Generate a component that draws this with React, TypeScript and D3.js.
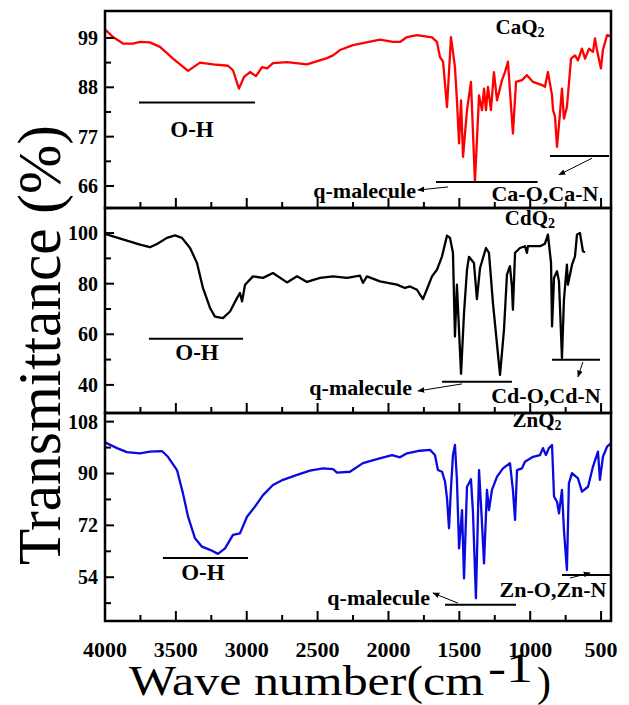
import React from "react";
import * as d3 from "d3";

// FTIR spectra, wave number (cm-1) vs transmittance (%)
const caWave = [4000, 3944, 3873, 3802, 3753, 3683, 3612, 3520, 3414, 3330, 3238, 3132, 3097, 3055, 3019, 2977, 2935, 2892, 2857, 2815, 2716, 2575, 2434, 2391, 2342, 2250, 2060, 1968, 1919, 1869, 1799, 1693, 1658, 1637, 1615, 1587, 1559, 1531, 1517, 1502, 1488, 1474, 1446, 1418, 1390, 1361, 1340, 1326, 1312, 1298, 1277, 1256, 1234, 1199, 1178, 1157, 1122, 1100, 1058, 1023, 980, 917, 896, 875, 846, 839, 825, 811, 790, 776, 762, 741, 712, 684, 663, 635, 613, 585, 557, 543, 529, 501, 487, 458, 430];
const caT = [100.9, 99.2, 97.75, 97.75, 98.1, 98, 97, 94.4, 91.65, 93.5, 93.1, 92.8, 91.8, 87.7, 90.3, 91.4, 90.5, 92.5, 92.2, 93.4, 93.6, 93.1, 94.5, 95.1, 96.3, 97.4, 98.6, 98.1, 98.1, 99.2, 99.6, 99.1, 98.1, 94.8, 93.7, 83.6, 99.2, 92.5, 85.1, 75.5, 85.1, 72.5, 82.9, 89.2, 66.9, 86.2, 82.9, 87.7, 82.9, 88.1, 82.9, 91.4, 85.1, 89.6, 91.4, 93.7, 77.7, 89.2, 89.6, 90.7, 89.2, 88.5, 88.1, 91.4, 86.2, 82.9, 81.4, 74.7, 82.2, 87.7, 81, 83.6, 94.4, 95.1, 94, 96.6, 94.4, 96.6, 95.9, 98.9, 96.3, 92.2, 96.3, 99.6, 99.4];

const cdWave = [4000, 3944, 3845, 3753, 3683, 3633, 3563, 3506, 3457, 3400, 3351, 3309, 3259, 3224, 3168, 3118, 3069, 3048, 3033, 3012, 2956, 2885, 2815, 2716, 2645, 2575, 2483, 2391, 2293, 2201, 2180, 2152, 2060, 1940, 1884, 1848, 1799, 1757, 1721, 1693, 1658, 1622, 1587, 1566, 1545, 1531, 1517, 1510, 1488, 1467, 1446, 1432, 1397, 1376, 1354, 1312, 1291, 1263, 1213, 1185, 1164, 1143, 1129, 1122, 1107, 1072, 1037, 1023, 1016, 931, 896, 875, 853, 846, 832, 811, 797, 776, 762, 741, 734, 705, 684, 670, 649, 628, 613];
const cdT = [99.7, 98.7, 97, 95.4, 94.4, 95.7, 98.1, 99.1, 98.1, 94.1, 88.2, 78.3, 70.4, 67, 66.4, 69, 74.3, 76.3, 73, 79.6, 82.9, 82.3, 84.2, 80.5, 82.9, 80.7, 82.3, 82.9, 82.3, 83.2, 80.3, 82.9, 80.9, 79.6, 78.3, 78.9, 77.6, 73.9, 78.9, 82.9, 85.5, 90.8, 99, 98.1, 92.2, 59.1, 79.6, 71, 44.4, 68.4, 85.5, 90.6, 88.2, 73.9, 86.2, 94.1, 92.2, 72.4, 44, 61.8, 83.6, 86.9, 78.9, 69.7, 92.2, 94.1, 94.8, 92.2, 94.8, 94.8, 95.8, 99.4, 88.2, 63.1, 82.3, 84.9, 80.9, 50.6, 73.7, 87.5, 79.6, 87.5, 90.8, 99.4, 100, 92.8, 92.4];

const znWave = [4000, 3915, 3845, 3753, 3683, 3598, 3556, 3492, 3450, 3414, 3365, 3316, 3259, 3203, 3153, 3097, 3048, 2998, 2942, 2885, 2815, 2744, 2645, 2554, 2462, 2391, 2363, 2272, 2180, 2081, 1975, 1919, 1869, 1778, 1707, 1672, 1651, 1622, 1601, 1587, 1573, 1559, 1545, 1531, 1517, 1502, 1481, 1467, 1446, 1432, 1418, 1404, 1383, 1361, 1340, 1326, 1305, 1291, 1270, 1234, 1192, 1143, 1122, 1107, 1093, 1058, 1037, 980, 931, 910, 889, 868, 846, 832, 811, 797, 776, 762, 741, 727, 705, 663, 635, 592, 557, 522, 508, 487, 458, 430];
const znT = [100.8, 98.8, 97.4, 97, 97.6, 97.8, 95.8, 91.2, 83.1, 75, 67.5, 64.6, 63.5, 62.1, 64, 68.7, 69.2, 75, 78.5, 82.5, 86, 87.8, 89.5, 91, 91.8, 91.5, 90.3, 90.6, 93.6, 95, 96.4, 95.6, 97, 97.9, 98.2, 96.4, 91.2, 90.6, 87.2, 81.4, 71, 84.9, 96.4, 99.9, 87.8, 64, 77.3, 53.6, 85.4, 86.6, 88, 76.8, 46.7, 91.2, 72.7, 58.8, 84.3, 77.3, 84.3, 88.9, 91.8, 93.6, 84.3, 73.9, 91.2, 91.8, 94.1, 95.8, 96.4, 98.8, 96.4, 98.8, 99.9, 82, 80.2, 76.2, 84.3, 70.4, 56.5, 86.6, 90.1, 88.3, 83.7, 85.4, 92.4, 97.6, 87.8, 95.8, 99.3, 100.5];

const xMajor = [4000, 3500, 3000, 2500, 2000, 1500, 1000, 500];
const xMinor = [3750, 3250, 2750, 2250, 1750, 1250, 750];

const caTicks = [66, 77, 88, 99];
const caMinor = [71.5, 82.5, 93.5];
const cdTicks = [40, 60, 80, 100];
const cdMinor = [50, 70, 90];
const znTicks = [54, 72, 90, 108];
const znMinor = [45, 63, 81, 99];

// annotation anchors in data units (wave number, transmittance)
const caNotes = {
  title: ["Ca", 1072, 101.4],
  oh: [3760, 2942, 84.6, 3386, 78.7],
  q: [1665, 948, 66.9, 1806, 65.1, 1580, 65.8, 1792, 65.1],
  m: ["Ca-O,Ca-N", 860, 444, 72.7, 896, 64.4, 564, 72.2, 797, 68.5],
};
const cdNotes = {
  title: ["Cd", 1002, 105.8],
  oh: [3690, 3026, 58.2, 3351, 52.7],
  q: [1622, 1129, 41.2, 1834, 38.8, 1481, 40.4, 1792, 37.6],
  m: ["Cd-O,Cd-N", 846, 508, 49.9, 889, 36.0, 628, 49.1, 663, 43.2],
};
const znNotes = {
  title: ["Zn", 952, 108.4],
  oh: [3591, 2991, 60.7, 3309, 55.5],
  q: [1601, 1100, 44.4, 1707, 47.1, 1510, 45.0, 1686, 48.5],
  m: ["Zn-O,Zn-N", 776, 430, 54.8, 839, 49.6, 719, 53.7, 578, 55.5],
};

const W = 629, H = 705;
const left = 105, right = 611;
const serif = "Liberation Serif, Tinos, Times New Roman, serif";

const x = d3.scaleLinear().domain([4000, 430]).range([left, right]);

function Panel({ top, bottom, domain, ticks, minor, wave, t, color, notes }) {
  const y = d3.scaleLinear().domain(domain).range([bottom, top]);
  const line = d3.line<number>().x((d, i) => x(wave[i])).y((d) => y(d));
  const [tt, tx, ty] = notes.title;
  const [o1, o2, oy, otx, oty] = notes.oh;
  const [q1, q2, qy, qtx, qty, qa1, qb1, qa2, qb2] = notes.q;
  const [mLabel, m1, m2, my, mtx, mty, ma1, mb1, ma2, mb2] = notes.m;
  const bold = { fontFamily: serif, fontWeight: 700 };
  return (
    <g>
      <defs>
        <clipPath id={"clip" + top}>
          <rect x={left} y={top} width={right - left} height={bottom - top} />
        </clipPath>
      </defs>
      <path d={line(t) || ""} fill="none" stroke={color} strokeWidth={2.3} strokeLinejoin="round" clipPath={`url(#clip${top})`} />
      {xMajor.map((v) => (
        <line key={"M" + v} x1={x(v)} x2={x(v)} y1={bottom} y2={bottom - 10} stroke="#000" strokeWidth={2} />
      ))}
      {xMinor.map((v) => (
        <line key={"m" + v} x1={x(v)} x2={x(v)} y1={bottom} y2={bottom - 6} stroke="#000" strokeWidth={2} />
      ))}
      {ticks.map((v) => (
        <g key={"y" + v}>
          <line x1={left} x2={left + 9} y1={y(v)} y2={y(v)} stroke="#000" strokeWidth={2} />
          <text x={left - 7} y={y(v)} textAnchor="end" dominantBaseline="central" style={{ ...bold, fontSize: 20 }}>{v}</text>
        </g>
      ))}
      {minor.map((v) => (
        <line key={"ym" + v} x1={left} x2={left + 6} y1={y(v)} y2={y(v)} stroke="#000" strokeWidth={2} />
      ))}
      <rect x={left} y={top} width={right - left} height={bottom - top} fill="none" stroke="#000" strokeWidth={2.5} />
      <text x={x(tx)} y={y(ty)} textAnchor="middle" dominantBaseline="central" style={{ ...bold, fontSize: 21 }}>
        {tt}Q<tspan style={{ fontSize: 14 }} dy={5}>2</tspan>
      </text>
      <line x1={x(o1)} x2={x(o2)} y1={y(oy)} y2={y(oy)} stroke="#000" strokeWidth={2} />
      <text x={x(otx)} y={y(oty)} textAnchor="middle" dominantBaseline="central" style={{ ...bold, fontSize: 23 }}>O-H</text>
      <line x1={x(q1)} x2={x(q2)} y1={y(qy)} y2={y(qy)} stroke="#000" strokeWidth={2} />
      <text x={x(qtx)} y={y(qty)} textAnchor="end" dominantBaseline="central" style={{ ...bold, fontSize: 22 }}>q-malecule</text>
      <line x1={x(qa1)} y1={y(qb1)} x2={x(qa2)} y2={y(qb2)} stroke="#000" strokeWidth={1} markerEnd="url(#arrow)" />
      <line x1={x(m1)} x2={x(m2)} y1={y(my)} y2={y(my)} stroke="#000" strokeWidth={2} />
      <text x={x(mtx)} y={y(mty)} textAnchor="middle" dominantBaseline="central" style={{ ...bold, fontSize: 22 }}>{mLabel}</text>
      <line x1={x(ma1)} y1={y(mb1)} x2={x(ma2)} y2={y(mb2)} stroke="#000" strokeWidth={1} markerEnd="url(#arrow)" />
    </g>
  );
}

export default function App() {
  return (
    <svg width={W} height={H} style={{ position: "absolute", left: 0, top: 0, background: "#fff" }}>
      <defs>
        <marker id="arrow" viewBox="0 0 10 10" refX={9} refY={5} markerWidth={7} markerHeight={7} orient="auto" markerUnits="userSpaceOnUse">
          <path d="M0,1 L10,5 L0,9 Z" fill="#000" />
        </marker>
      </defs>
      <rect width={W} height={H} fill="#fff" />
      <Panel top={11} bottom={208} domain={[61.1, 105]} ticks={caTicks} minor={caMinor} wave={caWave} t={caT} color="#ff0000" notes={caNotes} />
      <Panel top={208} bottom={413} domain={[28.9, 109.9]} ticks={cdTicks} minor={cdMinor} wave={cdWave} t={cdT} color="#000000" notes={cdNotes} />
      <Panel top={413} bottom={621} domain={[38.8, 111]} ticks={znTicks} minor={znMinor} wave={znWave} t={znT} color="#0a0ae0" notes={znNotes} />
      {xMajor.map((v) => (
        <text key={v} x={x(v)} y={649} textAnchor="middle" dominantBaseline="central" style={{ fontFamily: serif, fontWeight: 700, fontSize: 22 }}>{v}</text>
      ))}
      <text x={129} y={695} style={{ fontFamily: serif, fontSize: 42 }} textLength={355} lengthAdjust="spacingAndGlyphs">Wave number(cm</text>
      <text x={488} y={682} style={{ fontFamily: serif, fontSize: 42 }} textLength={45} lengthAdjust="spacingAndGlyphs">-1</text>
      <text x={537} y={696} style={{ fontFamily: serif, fontSize: 42 }}>)</text>
      <text transform="translate(60,345) rotate(-90)" textAnchor="middle" style={{ fontFamily: serif, fontSize: 62 }} textLength={440} lengthAdjust="spacingAndGlyphs">Transmittance (%)</text>
    </svg>
  );
}
